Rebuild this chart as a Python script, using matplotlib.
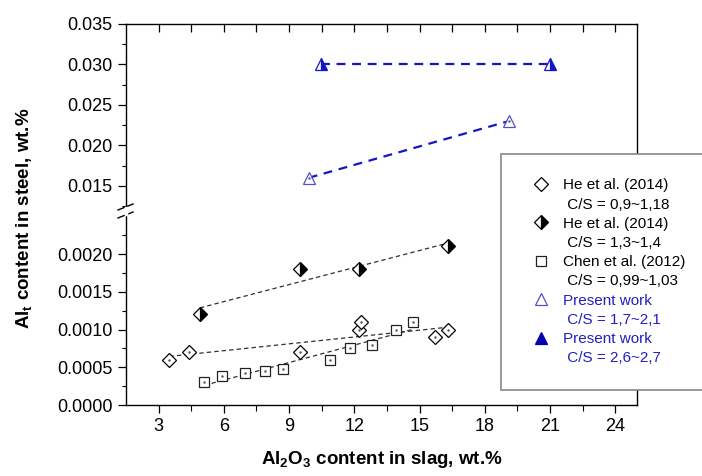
import numpy as np
import matplotlib.pyplot as plt
from matplotlib.lines import Line2D

plt.rcParams['font.family'] = 'Liberation Sans'
plt.rcParams['mathtext.fontset'] = 'custom'
plt.rcParams['mathtext.rm'] = 'Liberation Sans'
plt.rcParams['mathtext.bf'] = 'Liberation Sans:bold'

# He et al. (2014), C/S = 0.9~1.18
he1_x = [3.5, 4.4, 9.5, 12.2, 12.3, 15.7, 16.3]
he1_y = [0.0006, 0.0007, 0.0007, 0.0010, 0.0011, 0.0009, 0.0010]
# He et al. (2014), C/S = 1.3~1.4
he2_x = [4.9, 9.5, 12.2, 16.3]
he2_y = [0.0012, 0.0018, 0.0018, 0.0021]
# Chen et al. (2012)
chen_x = [5.1, 5.9, 6.95, 7.9, 8.7, 10.9, 11.8, 12.8, 13.9, 14.7]
chen_y = [0.0003, 0.00039, 0.00042, 0.00045, 0.00048, 0.0006, 0.00075, 0.0008, 0.0010, 0.0011]
# present work
pw1_x = [9.9, 19.1]
pw1_y = [0.016, 0.023]
pw2_x = [10.45, 21.0]
pw2_y = [0.030, 0.030]

names = ['He et al. (2014)', 'He et al. (2014)', 'Chen et al. (2012)',
         'Present work', 'Present work']
ratios = ['C/S = 0,9~1,18', 'C/S = 1,3~1,4', 'C/S = 0,99~1,03',
          'C/S = 1,7~2,1', 'C/S = 2,6~2,7']

W, H = 702, 476
fig = plt.figure(figsize=(W / 100, H / 100), dpi=100)
left, right, top, brk, bot = 126, 637, 24, 211, 405
ax_hi = fig.add_axes([left / W, 1 - brk / H, (right - left) / W, (brk - top) / H])
ax_lo = fig.add_axes([left / W, 1 - bot / H, (right - left) / W, (bot - brk) / H])

blue = '#1515c8'
tri_open = '#5050c8'


def fit_line(ax, x, y):
    k, b = np.polyfit(x, y, 1)
    xs = np.array([min(x), max(x)])
    ax.plot(xs, k * xs + b, ls=(0, (3.5, 2.5)), color='#303030', lw=0.9, zorder=1)


# lower panel
fit_line(ax_lo, he1_x, he1_y)
fit_line(ax_lo, he2_x, he2_y)
fit_line(ax_lo, chen_x, chen_y)
ax_lo.plot(he1_x, he1_y, 'D', ms=7.5, mfc='white', mec='black', mew=0.9, zorder=3)
ax_lo.plot(he2_x, he2_y, 'D', ms=7.5, fillstyle='right', mfc='black', mfcalt='white',
           mec='black', mew=0.9, zorder=3)
ax_lo.plot(chen_x, chen_y, 's', ms=7, mfc='white', mec='#222222', mew=0.9, zorder=3)
for xs, ys in [(he1_x, he1_y), (chen_x, chen_y)]:
    ax_lo.plot(xs, ys, '.', ms=1.5, color='#555555', zorder=4)

# upper panel
ax_hi.plot(pw1_x, pw1_y, ls=(0, (4, 3)), color=blue, lw=1.6, zorder=1)
ax_hi.plot(pw2_x, pw2_y, ls=(0, (4, 3)), color=blue, lw=1.6, zorder=1)
ax_hi.plot(pw1_x, pw1_y, '^', ms=9, mfc='white', mec=tri_open, mew=0.9, zorder=3)
ax_hi.plot(pw1_x, pw1_y, '.', ms=1.5, color=tri_open, zorder=4)
ax_hi.plot(pw2_x, pw2_y, '^', ms=9, fillstyle='right', mfc=blue, mfcalt='white',
           mec=blue, mew=0.9, zorder=3)

for ax in (ax_hi, ax_lo):
    ax.set_xlim(1.5, 25)
    ax.set_xticks(np.arange(3, 25, 3))
    ax.set_xticks(np.arange(4.5, 25, 3), minor=True)
    ax.tick_params(axis='y', which='major', direction='out', length=6, width=0.9,
                   labelsize=13, right=False)
    ax.tick_params(axis='y', which='minor', direction='out', length=3, width=0.8, right=False)
    for s in ax.spines.values():
        s.set_linewidth(1.0)

ax_hi.set_ylim(0.0119, 0.035)
ax_hi.set_yticks([0.015, 0.020, 0.025, 0.030, 0.035])
ax_hi.set_yticks([0.0125, 0.0175, 0.0225, 0.0275, 0.0325], minor=True)
ax_hi.set_yticklabels(['0.015', '0.020', '0.025', '0.030', '0.035'])
ax_hi.spines['bottom'].set_visible(False)
ax_hi.tick_params(axis='x', which='both', direction='in', top=True, bottom=False,
                  labelbottom=False, length=6, width=0.9)

ax_lo.set_ylim(0, 0.00257)
ax_lo.set_yticks([0, 0.0005, 0.0010, 0.0015, 0.0020])
ax_lo.set_yticks([0.00025, 0.00075, 0.00125, 0.00175, 0.00225], minor=True)
ax_lo.set_yticklabels(['0.0000', '0.0005', '0.0010', '0.0015', '0.0020'])
ax_lo.spines['top'].set_visible(False)
ax_lo.tick_params(axis='x', which='major', direction='out', length=6, width=0.9,
                  labelsize=13, top=False)
ax_lo.tick_params(axis='x', which='minor', direction='out', length=4, width=0.8, top=False)

# axis break marks on the left spine
xb = left / W
for yy in (brk - 4, brk + 4):
    fig.add_artist(Line2D([xb - 8 / W, xb + 7 / W], [1 - (yy + 3) / H, 1 - (yy - 3) / H],
                          color='black', lw=1.0))
fig.add_artist(Line2D([xb, xb], [1 - (brk + 3) / H, 1 - (brk - 3) / H], color='white', lw=2.5))

fig.text(25 / W, 1 - 218 / H, r'Al$_\mathbf{t}$ content in steel, wt.%',
         rotation=90, ha='center', va='center', fontsize=13.5, fontweight='bold')
fig.text((left + right) / 2 / W, 1 - 459 / H,
         r'Al$_\mathbf{2}$O$_\mathbf{3}$ content in slag, wt.%',
         ha='center', va='center', fontsize=13.5, fontweight='bold')

markers = [
    Line2D([], [], ls='none', marker='D', ms=7, mfc='white', mec='black', mew=0.9),
    Line2D([], [], ls='none', marker='D', ms=7, fillstyle='right', mfc='black',
           mfcalt='white', mec='black', mew=0.9),
    Line2D([], [], ls='none', marker='s', ms=6.5, mfc='white', mec='#222222', mew=0.9),
    Line2D([], [], ls='none', marker='^', ms=8.5, mfc='white', mec=tri_open, mew=0.9),
    Line2D([], [], ls='none', marker='^', ms=8.5, mfc='#0000b0', mec='#0000b0', mew=0.9),
]
handles, labels = [], []
for m, n, r in zip(markers, names, ratios):
    handles += [m, Line2D([], [], ls='none', marker='none')]
    labels += [n, ' ' + r]

leg = fig.legend(handles, labels, loc='upper left',
                 bbox_to_anchor=(501 / W, 1 - 390 / H, 230 / W, 236 / H), mode='expand',
                 borderaxespad=0, fontsize=11, frameon=True, fancybox=False,
                 edgecolor='#888888', framealpha=1, borderpad=1.6, labelspacing=0.34,
                 handlelength=2.0, handletextpad=0.45)
leg.get_frame().set_linewidth(1.2)
for t in leg.get_texts()[6:]:
    t.set_color('#2020c0')

fig.savefig('out.png', dpi=100)
